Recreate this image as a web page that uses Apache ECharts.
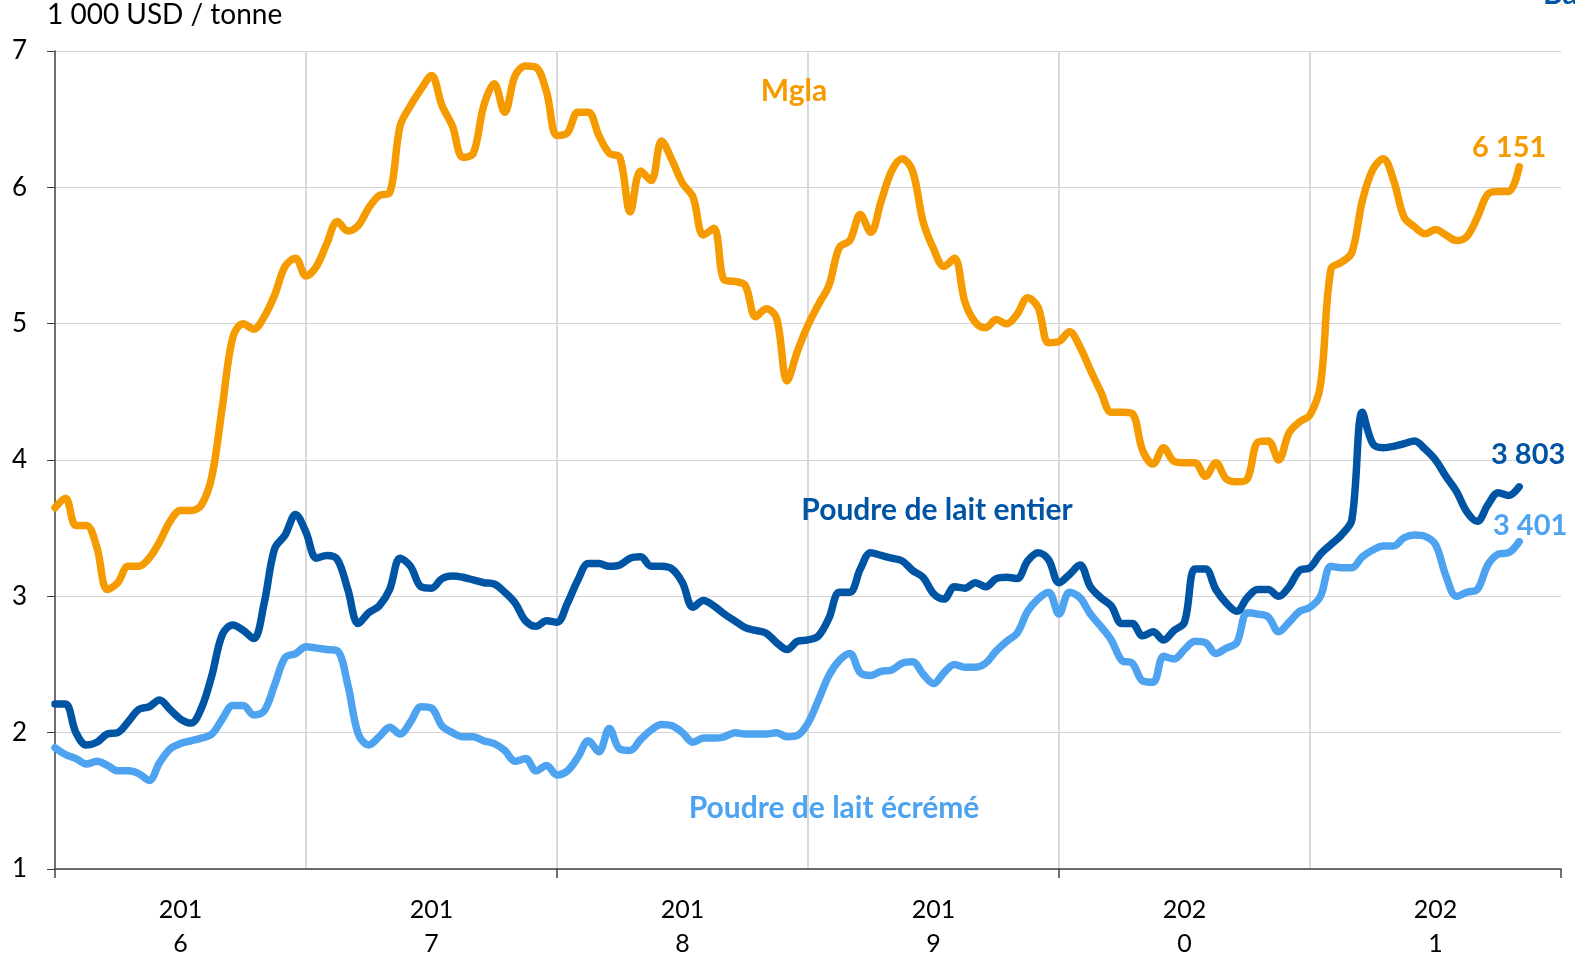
<!DOCTYPE html>
<html>
<head>
<meta charset="utf-8">
<title>Prix des produits laitiers</title>
<script src="https://cdn.jsdelivr.net/npm/echarts@6/dist/echarts.min.js"></script>
<style>
  html, body { margin: 0; padding: 0; background: #fff; }
  #chart { width: 1575px; height: 961px; }
</style>
</head>
<body>
<div id="chart"></div>
<script>
// ---- data (1 000 USD / tonne, 24 points per year, from Jan 2016) ----
const years = ['2016', '2017', '2018', '2019', '2020', '2021'];

const mgla = [
  3.65, 3.72, 3.52, 3.52, 3.36, 3.05, 3.10, 3.22, 3.22, 3.28, 3.40, 3.55,
  3.63, 3.63, 3.67, 3.88, 4.39, 4.90, 5.00, 4.96, 5.05, 5.21, 5.42, 5.48,
  5.35, 5.42, 5.59, 5.75, 5.68, 5.72, 5.85, 5.94, 5.96, 6.45, 6.60, 6.72,
  6.82, 6.60, 6.45, 6.22, 6.25, 6.60, 6.76, 6.55, 6.82, 6.89, 6.88, 6.70,
  6.38, 6.40, 6.55, 6.55, 6.38, 6.25, 6.22, 5.82, 6.12, 6.05, 6.34, 6.20,
  6.03, 5.93, 5.65, 5.70, 5.32, 5.31, 5.28, 5.05, 5.11, 5.04, 4.58, 4.80,
  4.99, 5.14, 5.28, 5.56, 5.61, 5.80, 5.67, 5.90, 6.12, 6.21, 6.12, 5.75,
  5.55, 5.42, 5.48, 5.16, 5.01, 4.97, 5.03, 5.00, 5.07, 5.19, 5.12, 4.86,
  4.87, 4.94, 4.83, 4.66, 4.50, 4.35, 4.35, 4.34, 4.07, 3.97, 4.09, 3.99,
  3.98, 3.98, 3.88, 3.98, 3.86, 3.84, 3.86, 4.13, 4.14, 4.00, 4.20, 4.28,
  4.33, 4.55, 5.40, 5.45, 5.52, 5.90, 6.13, 6.21, 6.05, 5.78, 5.71, 5.66,
  5.69, 5.65, 5.61, 5.64, 5.78, 5.95, 5.97, 5.97, 6.151
];

const entier = [
  2.21, 2.21, 2.00, 1.91, 1.93, 1.99, 2.00, 2.08, 2.17, 2.19, 2.24, 2.17,
  2.10, 2.07, 2.18, 2.42, 2.72, 2.79, 2.75, 2.69, 2.95, 3.35, 3.45, 3.60,
  3.47, 3.28, 3.30, 3.27, 3.05, 2.80, 2.88, 2.93, 3.05, 3.28, 3.22, 3.07,
  3.06, 3.13, 3.15, 3.14, 3.12, 3.10, 3.09, 3.03, 2.95, 2.82, 2.78, 2.82,
  2.81, 2.95, 3.12, 3.24, 3.24, 3.22, 3.23, 3.28, 3.29, 3.22, 3.22, 3.20,
  3.10, 2.92, 2.97, 2.93, 2.87, 2.82, 2.77, 2.75, 2.73, 2.66, 2.61, 2.67,
  2.68, 2.71, 2.84, 3.03, 3.03, 3.20, 3.32, 3.30, 3.28, 3.26, 3.19, 3.14,
  3.02, 2.98, 3.07, 3.06, 3.10, 3.07, 3.13, 3.14, 3.13, 3.26, 3.32, 3.27,
  3.10, 3.16, 3.23, 3.07, 2.99, 2.93, 2.80, 2.80, 2.71, 2.74, 2.68, 2.75,
  2.81, 3.20, 3.20, 3.05, 2.95, 2.89, 2.99, 3.05, 3.05, 3.00, 3.07, 3.19,
  3.21, 3.31, 3.38, 3.45, 3.56, 4.35, 4.12, 4.09, 4.10, 4.12, 4.14, 4.08,
  4.00, 3.88, 3.77, 3.62, 3.55, 3.67, 3.76, 3.74, 3.803
];

const ecreme = [
  1.89, 1.84, 1.81, 1.77, 1.79, 1.76, 1.72, 1.72, 1.70, 1.65, 1.78, 1.88,
  1.92, 1.94, 1.96, 1.99, 2.10, 2.20, 2.20, 2.13, 2.16, 2.35, 2.55, 2.58,
  2.63, 2.62, 2.61, 2.60, 2.35, 1.99, 1.91, 1.97, 2.04, 1.99, 2.08, 2.19,
  2.18, 2.05, 2.00, 1.97, 1.97, 1.94, 1.92, 1.87, 1.79, 1.81, 1.72, 1.76,
  1.69, 1.72, 1.82, 1.94, 1.86, 2.03, 1.88, 1.87, 1.95, 2.02, 2.06, 2.05,
  2.00, 1.93, 1.96, 1.96, 1.97, 2.00, 1.99, 1.99, 1.99, 2.00, 1.97, 1.98,
  2.07, 2.24, 2.42, 2.53, 2.58, 2.44, 2.42, 2.45, 2.46, 2.51, 2.52, 2.43,
  2.36, 2.44, 2.50, 2.48, 2.48, 2.51, 2.60, 2.67, 2.73, 2.89, 2.98, 3.03,
  2.87, 3.03, 2.99, 2.87, 2.78, 2.68, 2.53, 2.51, 2.38, 2.37, 2.56, 2.54,
  2.61, 2.67, 2.66, 2.58, 2.62, 2.66, 2.88, 2.87, 2.85, 2.74, 2.81, 2.89,
  2.92, 3.00, 3.22, 3.21, 3.21, 3.29, 3.34, 3.37, 3.37, 3.43, 3.45, 3.44,
  3.38, 3.15, 3.00, 3.03, 3.05, 3.23, 3.31, 3.32, 3.401
];

// ---- colours ----
const ORANGE = '#F59B00';
const DARK = '#0054A4';
const LIGHT = '#4DA3F0';
const FONT = 'Lato, "Noto Sans", sans-serif';

// half-month slots, 24 per year, plus the closing boundary
const PER_YEAR = 24;
const categories = [];
years.forEach(y => {
  for (let k = 1; k <= PER_YEAR; k++) categories.push(y + '-' + k);
});
categories.push('end');

// "6151" -> "6 151"
function fmt(v) {
  const s = String(Math.round(v * 1000));
  return s.slice(0, -3) + ' ' + s.slice(-3);
}

function lineSeries(name, data, color, labelOffset) {
  return {
    name: name,
    type: 'line',
    data: data,
    smooth: 0.35,
    symbol: 'none',
    lineStyle: { color: color, width: 7.5, cap: 'round', join: 'round' },
    itemStyle: { color: color },
    // last value written above the end of the line
    endLabel: {
      show: true,
      distance: 0,
      align: 'center',
      verticalAlign: 'middle',
      offset: labelOffset,
      formatter: p => fmt(p.value),
      color: color,
      fontFamily: FONT,
      fontWeight: 'bold',
      fontSize: 29
    }
  };
}

// series names written inside the plot
function nameText(text, x, y, color) {
  return {
    type: 'text', x: x, y: y, z: 100,
    style: { text: text, fill: color, font: 'bold 30px ' + FONT, align: 'center', verticalAlign: 'middle' }
  };
}

const chart = echarts.init(document.getElementById('chart'));
chart.setOption({
  animation: false,
  textStyle: { fontFamily: FONT },
  grid: { left: 55, right: 14, top: 51, bottom: 90, containLabel: false },
  xAxis: {
    type: 'category',
    data: categories,
    boundaryGap: false,
    axisLine: { lineStyle: { color: '#404040', width: 1.5 } },
    axisTick: {
      interval: idx => idx % (PER_YEAR * 2) === 0,
      length: 9,
      lineStyle: { color: '#404040', width: 1.5 }
    },
    axisLabel: {
      interval: idx => idx % PER_YEAR === PER_YEAR / 2,
      formatter: (val, idx) => {
        const y = years[Math.floor(idx / PER_YEAR)];
        return y.slice(0, 3) + '\n' + y.slice(3);
      },
      color: '#000',
      fontSize: 25,
      lineHeight: 34,
      margin: 24
    },
    splitLine: {
      show: true,
      interval: idx => idx > 0 && idx < categories.length - 1 && idx % PER_YEAR === 0,
      lineStyle: { color: '#d9d9d9', width: 2 }
    }
  },
  yAxis: {
    type: 'value',
    min: 1,
    max: 7,
    interval: 1,
    axisLine: { show: true, lineStyle: { color: '#404040', width: 1.5 } },
    axisTick: { show: true, length: 8, lineStyle: { color: '#404040' } },
    axisLabel: { color: '#000', fontSize: 26, margin: 28 },
    splitLine: { lineStyle: { color: '#d4d4d4', width: 1.2 } }
  },
  graphic: [
    { type: 'text', left: 47, top: 1,
      style: { text: '1 000 USD / tonne', fill: '#000', font: '28px ' + FONT } },
    { type: 'text', left: 1543, top: -21,
      style: { text: 'Base', fill: DARK, font: 'bold 30px ' + FONT } },
    nameText('Mgla', 794, 91, ORANGE),
    nameText('Poudre de lait entier', 937, 510, DARK),
    nameText('Poudre de lait écrémé', 834, 808, LIGHT)
  ],
  series: [
    lineSeries('Mgla', mgla, ORANGE, [-10, -19]),
    lineSeries('Poudre de lait écrémé', ecreme, LIGHT, [11, -16]),
    lineSeries('Poudre de lait entier', entier, DARK, [9, -32])
  ]
});
</script>
</body>
</html>
